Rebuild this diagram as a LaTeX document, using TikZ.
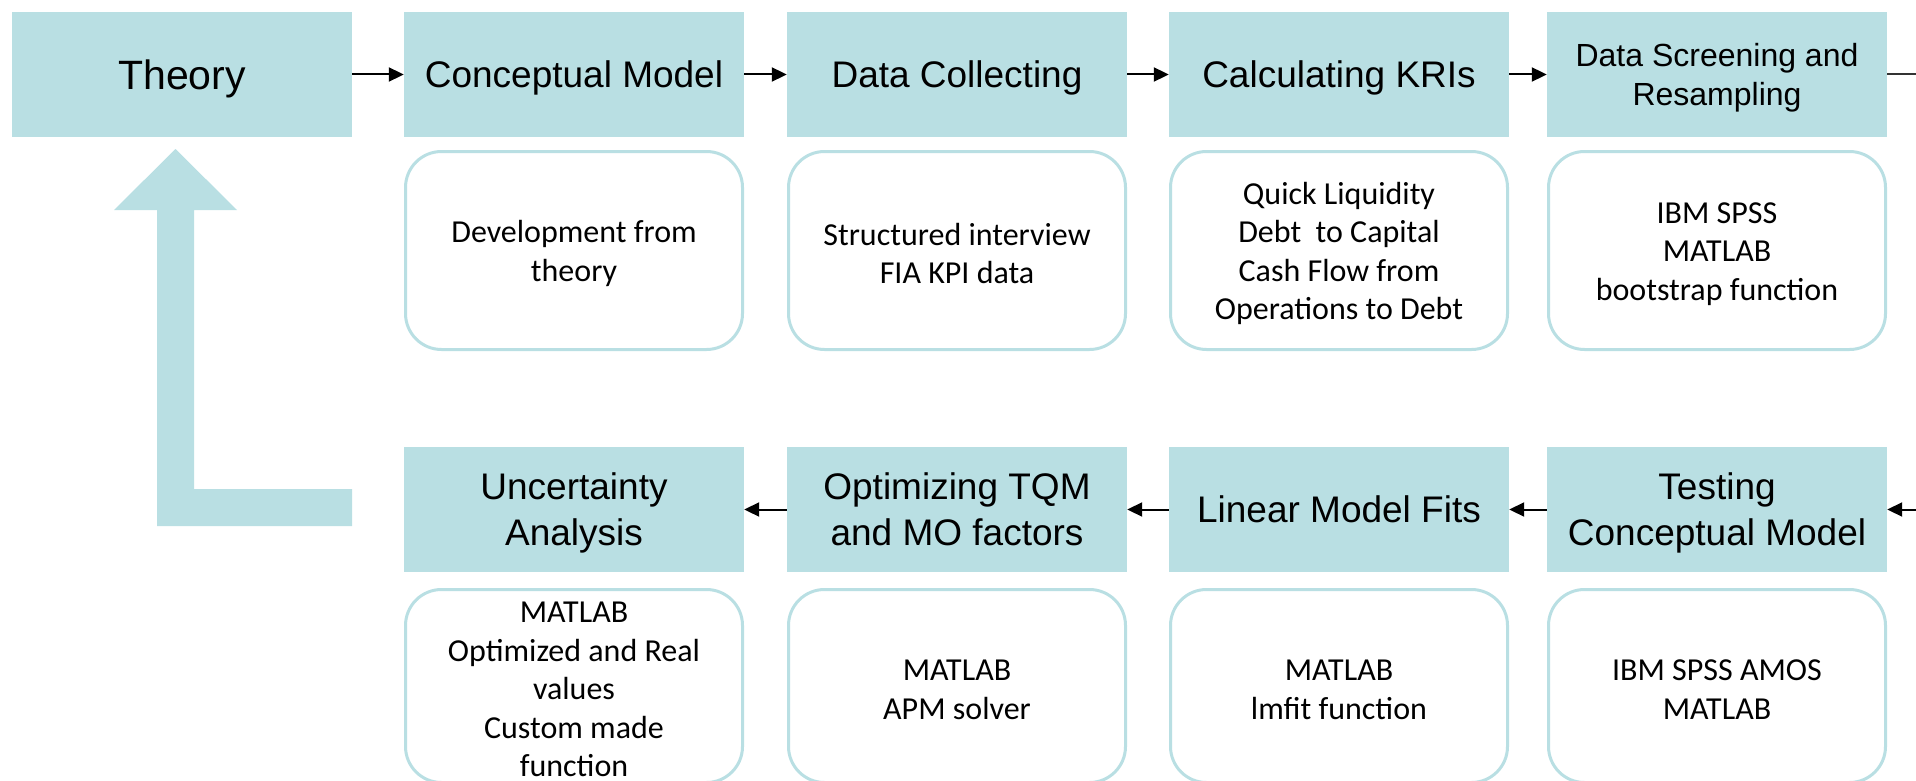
\documentclass[tikz,border=0pt]{standalone}
\usepackage{fontspec}
\usetikzlibrary{arrows.meta}
\newfontfamily\headfont{Liberation Sans}
\newfontfamily\notefont{Carlito}
\definecolor{teal1}{HTML}{B9DFE3}
% invisible prop that gives every note the same first-line height
\newcommand\noteprop{\rule{0pt}{28pt}}
\tikzset{
  stage/.style={rectangle, fill=teal1, minimum width=340pt, minimum height=125pt,
    inner sep=0pt, text depth=0pt, align=center, font=\headfont\fontsize{37}{46}\selectfont},
  notebox/.style={rectangle, rounded corners=36pt, draw=teal1, line width=3pt, fill=white,
    minimum width=337pt, inner sep=0pt, align=center,
    font=\notefont\fontsize{32}{38.5}\selectfont},
  flow/.style={line width=2pt, -{Triangle[length=15pt,width=14pt]}},
  plainflow/.style={line width=2pt, draw=black!80}
}
\begin{document}
\begin{tikzpicture}[x=1pt,y=-1pt]
\useasboundingbox (0,0) rectangle (1916,781);

% top row of stages
\node[stage, font=\headfont\fontsize{41}{49}\selectfont] (theory) at (182,74.5) {Theory};
\node[stage] (concept) at (574,74.5) {Conceptual Model};
\node[stage] (collect) at (957,74.5) {Data Collecting};
\node[stage] (kri) at (1339,74.5) {Calculating KRIs};
\node[stage, font=\headfont\fontsize{32}{39}\selectfont] (screen) at (1717,74.5) {Data Screening and\\Resampling};

% notes below the top row
\node[notebox, minimum height=198pt] (nconcept) at (574,250.5) {\noteprop Development from\\theory};
\node[notebox, minimum height=198pt] (ncollect) at (957,250.5) {\noteprop Structured interview\\FIA KPI data};
\node[notebox, minimum height=198pt] (nkri) at (1339,250.5) {\noteprop Quick Liquidity\\Debt\ \ to Capital\\Cash Flow from\\Operations to Debt};
\node[notebox, minimum height=198pt] (nscreen) at (1717,250.5) {\noteprop IBM SPSS\\MATLAB\\bootstrap function};

% bottom row of stages
\node[stage] (uncert) at (574,509.5) {Uncertainty\\Analysis};
\node[stage] (optim) at (957,509.5) {Optimizing TQM\\and MO factors};
\node[stage] (linfit) at (1339,509.5) {Linear Model Fits};
\node[stage] (testcm) at (1717,509.5) {Testing\\Conceptual Model};

% notes below the bottom row
\node[notebox, minimum height=193pt] (nuncert) at (574,686) {\noteprop MATLAB\\Optimized and Real\\values\\Custom made\\function};
\node[notebox, minimum height=193pt] (noptim) at (957,686) {\noteprop MATLAB\\APM solver};
\node[notebox, minimum height=193pt] (nlinfit) at (1339,686) {\noteprop MATLAB\\lmfit function};
\node[notebox, minimum height=193pt] (ntestcm) at (1717,686) {\noteprop IBM SPSS AMOS\\MATLAB};

% connectors
\coordinate (outtop) at (1916,74.5);
\coordinate (inbot) at (1916,509.5);
\draw[flow] (theory) -- (concept);
\draw[flow] (concept) -- (collect);
\draw[flow] (collect) -- (kri);
\draw[flow] (kri) -- (screen);
\draw[plainflow] (screen.east) -- (outtop);
\draw[flow] (inbot) -- (testcm.east);
\draw[flow] (testcm) -- (linfit);
\draw[flow] (linfit) -- (optim);
\draw[flow] (optim) -- (uncert);

% feedback arrow back to theory
\fill[teal1] (175.5,149) -- (237,210) -- (194,210) -- (194,489) -- (352,489)
  -- (352,526) -- (157,526) -- (157,210) -- (114,210) -- cycle;
\end{tikzpicture}
\end{document}
